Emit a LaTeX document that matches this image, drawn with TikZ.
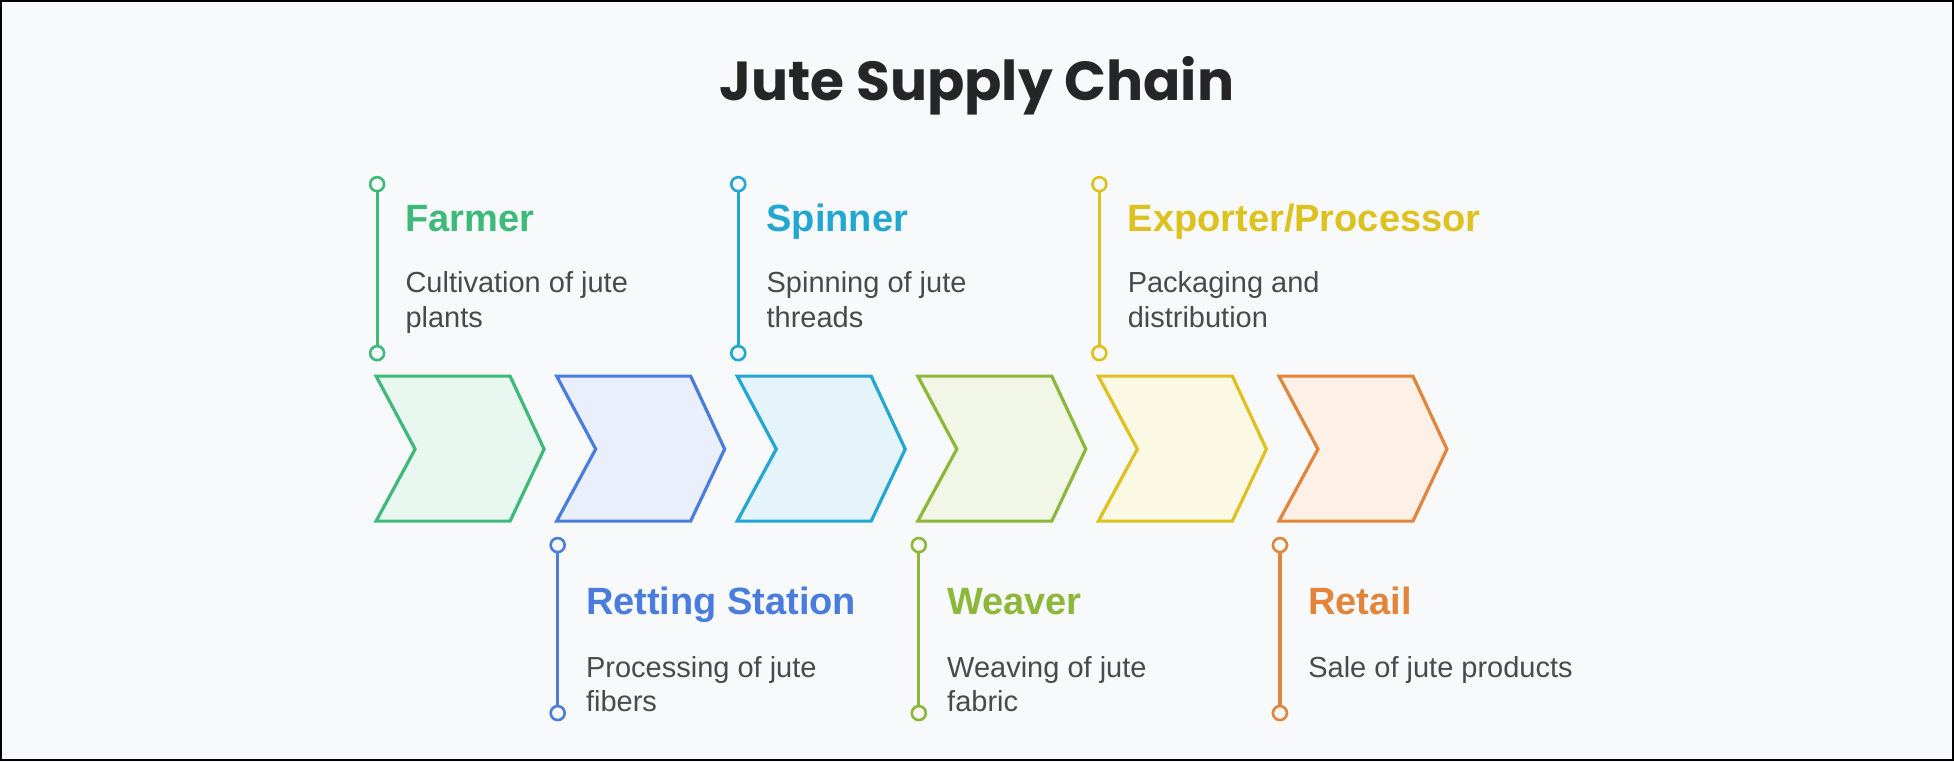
\documentclass[tikz,border=0pt]{standalone}
\usepackage{fontspec}
\setmainfont{Liberation Sans}
\newfontfamily\titlefont{Poppins}
\usepackage{xcolor}
\definecolor{bgc}{HTML}{F8F9FB}
\definecolor{txtc}{HTML}{4A4A4A}
\definecolor{cfarm}{HTML}{3DBA78}
\definecolor{cret}{HTML}{4A7CDD}
\definecolor{cspin}{HTML}{22A7D2}
\definecolor{cweav}{HTML}{8CB83A}
\definecolor{cexp}{HTML}{DDC21F}
\definecolor{cshop}{HTML}{E2853A}

\tikzset{
  chev/.style={line width=1.6pt, line join=miter},
  dot/.style={circle, draw, line width=1.3pt, fill=bgc, minimum size=7pt, inner sep=0pt},
  head/.style={anchor=base west, font=\fontsize{19}{22}\selectfont\bfseries, inner sep=0pt},
  desc/.style={anchor=base west, font=\fontsize{14.5}{17}\selectfont, text=txtc, inner sep=0pt, align=left}
}

\begin{document}
\begin{tikzpicture}[x=0.5pt,y=-0.5pt]
        % background and frame
        \fill[bgc] (0,0) rectangle (1954,761);
        \draw[line width=1.2pt] (1,1) rectangle (1953,760);

        % title
        \node[font=\titlefont\fontsize{27.5}{32}\selectfont\bfseries, text=black!85, anchor=base] (title) at (977,100) {Jute Supply Chain};

        % chevrons
        \foreach \i/\col in {0/cfarm,1/cret,2/cspin,3/cweav,4/cexp,5/cshop} {
            \pgfmathsetmacro{\xs}{376+180.6*\i}
            \draw[chev, draw=\col, fill=\col!12] (\xs,376) -- ++(134,0) -- ++(34,73) -- ++(-34,72)
                -- ++(-134,0) -- ++(39,-72) -- cycle;
        }

        % top labels
        \foreach \i/\col/\name/\la/\lb in {0/cfarm/Farmer/Cultivation of jute/plants,
                                        2/cspin/Spinner/Spinning of jute/threads,
                                        4/cexp/Exporter\slash Processor/Packaging and/distribution} {
            \pgfmathsetmacro{\xs}{377+180.6*\i}
            \node[dot, draw=\col] (t\i a) at (\xs,184) {};
            \node[dot, draw=\col] (t\i b) at (\xs,353) {};
            \draw[line width=1.6pt, \col] (t\i a) -- (t\i b);
            \node[head, text=\col] (h\i) at (\xs+28,231) {\name};
            \node[desc] (d\i) at (\xs+28,292) {\la};
            \node[desc] (e\i) at (\xs+28,327) {\lb};
        }

        % bottom labels
        \foreach \i/\col/\name/\la/\lb in {1/cret/Retting Station/Processing of jute/fibers,
                                        3/cweav/Weaver/Weaving of jute/fabric,
                                        5/cshop/Retail/Sale of jute products/} {
            \pgfmathsetmacro{\xs}{377+180.6*\i}
            \node[dot, draw=\col] (b\i a) at (\xs,545) {};
            \node[dot, draw=\col] (b\i b) at (\xs,713) {};
            \draw[line width=1.6pt, \col] (b\i a) -- (b\i b);
            \node[head, text=\col] (h\i) at (\xs+28,614) {\name};
            \node[desc] (d\i) at (\xs+28,677) {\la};
            \node[desc] (e\i) at (\xs+28,711) {\lb};
        }
    \end{tikzpicture}
\end{document}
